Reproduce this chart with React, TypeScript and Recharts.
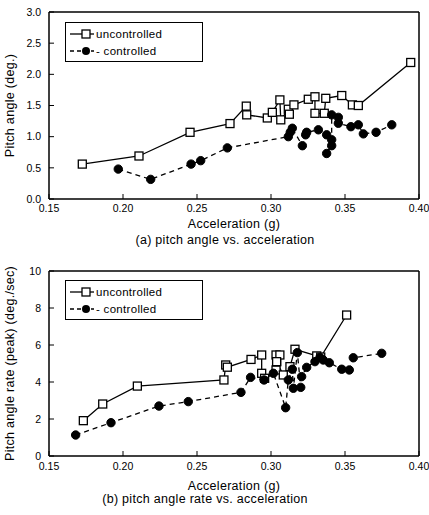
import React from 'react';
import { ScatterChart, Scatter, XAxis, YAxis, ReferenceLine, Label } from 'recharts';

// (a) pitch angle vs. acceleration
const angleUncontrolled = [
  { x: 0.1725, y: 0.56 }, { x: 0.2108, y: 0.69 }, { x: 0.2453, y: 1.07 }, { x: 0.2723, y: 1.21 },
  { x: 0.2833, y: 1.49 }, { x: 0.2836, y: 1.35 }, { x: 0.2975, y: 1.3 }, { x: 0.3009, y: 1.39 },
  { x: 0.306, y: 1.59 }, { x: 0.3066, y: 1.27 }, { x: 0.3117, y: 1.44 }, { x: 0.3124, y: 1.36 },
  { x: 0.3155, y: 1.51 }, { x: 0.3252, y: 1.6 }, { x: 0.3297, y: 1.64 }, { x: 0.3297, y: 1.375 },
  { x: 0.336, y: 1.375 }, { x: 0.337, y: 1.615 }, { x: 0.3478, y: 1.66 }, { x: 0.355, y: 1.51 },
  { x: 0.359, y: 1.5 }, { x: 0.3944, y: 2.19 },
];
const angleControlled = [
  { x: 0.1968, y: 0.48 }, { x: 0.2187, y: 0.315 }, { x: 0.246, y: 0.56 }, { x: 0.2525, y: 0.615 },
  { x: 0.2705, y: 0.82 }, { x: 0.3117, y: 1.0 }, { x: 0.313, y: 1.07 }, { x: 0.3144, y: 1.135 },
  { x: 0.3212, y: 0.855 }, { x: 0.3234, y: 1.03 }, { x: 0.3241, y: 1.07 }, { x: 0.332, y: 1.11 },
  { x: 0.3376, y: 1.03 }, { x: 0.341, y: 0.95 }, { x: 0.3376, y: 0.73 }, { x: 0.341, y: 0.855 },
  { x: 0.341, y: 1.35 }, { x: 0.3455, y: 1.31 }, { x: 0.3455, y: 1.215 }, { x: 0.354, y: 1.16 },
  { x: 0.359, y: 1.19 }, { x: 0.3624, y: 1.045 }, { x: 0.371, y: 1.07 }, { x: 0.3816, y: 1.19 },
];

// (b) pitch angle rate vs. acceleration
const rateUncontrolled = [
  { x: 0.1732, y: 1.91 }, { x: 0.1863, y: 2.81 }, { x: 0.2097, y: 3.78 }, { x: 0.2682, y: 4.11 },
  { x: 0.2694, y: 4.92 }, { x: 0.2705, y: 4.8 }, { x: 0.2865, y: 5.22 }, { x: 0.2937, y: 5.46 },
  { x: 0.2937, y: 4.47 }, { x: 0.2957, y: 4.2 }, { x: 0.3034, y: 4.65 }, { x: 0.3038, y: 5.1 },
  { x: 0.3034, y: 5.46 }, { x: 0.306, y: 5.46 }, { x: 0.3038, y: 5.1 }, { x: 0.3083, y: 4.38 },
  { x: 0.3128, y: 4.83 }, { x: 0.3162, y: 5.77 }, { x: 0.3309, y: 5.41 }, { x: 0.3336, y: 5.35 },
  { x: 0.3511, y: 7.62 },
];
const rateControlled = [
  { x: 0.168, y: 1.135 }, { x: 0.1919, y: 1.8 }, { x: 0.2243, y: 2.7 }, { x: 0.2441, y: 2.94 },
  { x: 0.2797, y: 3.44 }, { x: 0.2862, y: 4.25 }, { x: 0.2953, y: 4.11 }, { x: 0.3016, y: 4.47 },
  { x: 0.3099, y: 2.61 }, { x: 0.3117, y: 4.11 }, { x: 0.3144, y: 4.69 }, { x: 0.3151, y: 3.66 },
  { x: 0.3178, y: 5.59 }, { x: 0.3201, y: 3.71 }, { x: 0.3207, y: 4.29 }, { x: 0.3241, y: 4.79 },
  { x: 0.3297, y: 5.1 }, { x: 0.3331, y: 5.33 }, { x: 0.3353, y: 5.19 }, { x: 0.3394, y: 5.04 },
  { x: 0.3478, y: 4.69 }, { x: 0.3529, y: 4.65 }, { x: 0.3556, y: 5.31 }, { x: 0.3748, y: 5.55 },
];

const xTicks = [0.15, 0.2, 0.25, 0.3, 0.35, 0.4];
const angleTicks = [0, 0.5, 1, 1.5, 2, 2.5, 3];
const rateTicks = [0, 2, 4, 6, 8, 10];

const FONT = 'Arial, "Liberation Sans", Helvetica, sans-serif';

const Square = (p: any) => (
  <rect x={p.cx - 4} y={p.cy - 4} width={8} height={8} fill="#fff" stroke="#000" strokeWidth={1.3} />
);
const Dot = (p: any) => <circle cx={p.cx} cy={p.cy} r={4.2} fill="#000" stroke="#000" />;

const LegendBox = ({ top }: { top: number }) => (
  <div
    style={{
      position: 'absolute', left: 65, top, width: 136, height: 38, border: '1.5px solid #000',
      background: '#fff', fontSize: 11, fontFamily: FONT, color: '#000',
    }}
  >
    <svg width={136} height={38} style={{ position: 'absolute', left: 0, top: 0 }}>
      <line x1={4} y1={11} x2={28} y2={11} stroke="#000" strokeWidth={1.3} />
      <rect x={16} y={7} width={8} height={8} fill="#fff" stroke="#000" strokeWidth={1.3} />
      <line x1={4} y1={28} x2={28} y2={28} stroke="#000" strokeWidth={1.3} strokeDasharray="4 3" />
      <circle cx={20} cy={28} r={4} fill="#000" />
      <text x={30} y={15} fontSize={11.5} fontFamily={FONT} letterSpacing={0.3}>uncontrolled</text>
      <text x={30} y={32} fontSize={11.5} fontFamily={FONT} letterSpacing={0.3}>- controlled</text>
    </svg>
  </div>
);

const tickStyle = { fill: '#000', fontSize: 10.5, fontFamily: FONT };
const labelStyle = { fill: '#000', fontSize: 12.5, fontFamily: FONT, letterSpacing: 0.3 };

export default function App() {
  return (
    <div style={{ position: 'absolute', left: 0, top: 0, width: 429, height: 515, background: '#fff', fontFamily: FONT }}>
      <div style={{ position: 'absolute', left: 0, top: 0 }}>
        <ScatterChart width={429} height={255} margin={{ top: 12, right: 10, left: 0, bottom: 0 }}>
          <XAxis
            type="number" dataKey="x" domain={[0.15, 0.4]} ticks={xTicks} allowDataOverflow
            tickFormatter={(v: number) => v.toFixed(2)} height={56} tickSize={-5} tickMargin={11}
            tick={tickStyle} axisLine={{ stroke: '#000', strokeWidth: 1.5 }} tickLine={{ stroke: '#000' }}
          >
            <Label value="Acceleration (g)" position="insideBottom" offset={27} style={labelStyle} />
          </XAxis>
          <YAxis
            type="number" dataKey="y" domain={[0, 3]} ticks={angleTicks} allowDataOverflow
            tickFormatter={(v: number) => v.toFixed(1)} width={49} tickSize={-5} tickMargin={13}
            tick={tickStyle} axisLine={{ stroke: '#000', strokeWidth: 1.5 }} tickLine={{ stroke: '#000' }}
          >
            <Label value="Pitch angle (deg.)" angle={-90} position="insideLeft" offset={10}
              style={{ ...labelStyle, textAnchor: 'middle' }} />
          </YAxis>
          <ReferenceLine y={3} stroke="#000" strokeWidth={1.5} />
          <ReferenceLine x={0.4} stroke="#000" strokeWidth={1.5} />
          <Scatter data={angleUncontrolled} line={{ stroke: '#000', strokeWidth: 1.3 }} lineType="joint" shape={Square} isAnimationActive={false} />
          <Scatter data={angleControlled} line={{ stroke: '#000', strokeWidth: 1.3, strokeDasharray: '5 4' }} lineType="joint" shape={Dot} isAnimationActive={false} />
        </ScatterChart>
      </div>
      <LegendBox top={22} />
      <div style={{ position: 'absolute', left: 0, width: 450, top: 233, textAlign: 'center', fontSize: 12.5, letterSpacing: 0.3, color: '#000' }}>
        (a) pitch angle vs. acceleration
      </div>

      <div style={{ position: 'absolute', left: 0, top: 255 }}>
        <ScatterChart width={429} height={260} margin={{ top: 16, right: 10, left: 0, bottom: 0 }}>
          <XAxis
            type="number" dataKey="x" domain={[0.15, 0.4]} ticks={xTicks} allowDataOverflow
            tickFormatter={(v: number) => v.toFixed(2)} height={59} tickSize={-5} tickMargin={12}
            tick={tickStyle} axisLine={{ stroke: '#000', strokeWidth: 1.5 }} tickLine={{ stroke: '#000' }}
          >
            <Label value="Acceleration (g)" position="insideBottom" offset={25} style={labelStyle} />
          </XAxis>
          <YAxis
            type="number" dataKey="y" domain={[0, 10]} ticks={rateTicks} allowDataOverflow
            width={49} tickSize={-5} tickMargin={13}
            tick={tickStyle} axisLine={{ stroke: '#000', strokeWidth: 1.5 }} tickLine={{ stroke: '#000' }}
          >
            <Label value="Pitch angle rate (peak) (deg./sec)" angle={-90} position="insideLeft" offset={10}
              style={{ ...labelStyle, textAnchor: 'middle' }} />
          </YAxis>
          <ReferenceLine y={10} stroke="#000" strokeWidth={1.5} />
          <ReferenceLine x={0.4} stroke="#000" strokeWidth={1.5} />
          <Scatter data={rateUncontrolled} line={{ stroke: '#000', strokeWidth: 1.3 }} lineType="joint" shape={Square} isAnimationActive={false} />
          <Scatter data={rateControlled} line={{ stroke: '#000', strokeWidth: 1.3, strokeDasharray: '5 4' }} lineType="joint" shape={Dot} isAnimationActive={false} />
        </ScatterChart>
      </div>
      <LegendBox top={280} />
      <div style={{ position: 'absolute', left: 0, width: 410, top: 492, textAlign: 'center', fontSize: 12.5, letterSpacing: 0.3, color: '#000' }}>
        (b) pitch angle rate vs. acceleration
      </div>
    </div>
  );
}
